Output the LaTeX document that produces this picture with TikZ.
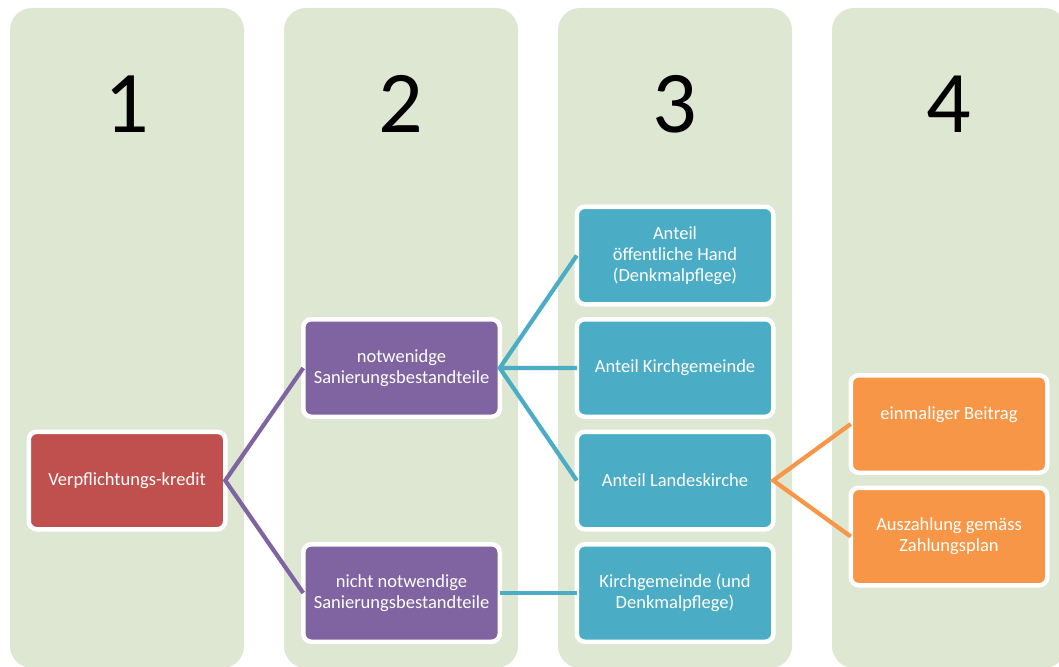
\documentclass[tikz,border=0pt]{standalone}
\usepackage{fontspec}
\setmainfont{Carlito}
\definecolor{colbg}{HTML}{DEE7D1}
\definecolor{kred}{HTML}{C0504D}
\definecolor{kpurple}{HTML}{8064A2}
\definecolor{kblue}{HTML}{4BACC6}
\definecolor{korange}{HTML}{F79646}

\def\colcell{
rectangle ++(234,660)
}

\begin{document}
\begin{tikzpicture}[x=1pt,y=-1pt,
  cell/.style={draw=white,line width=4.5pt,rounded corners=8pt,minimum width=196.5pt,
    minimum height=97.5pt,outer sep=0pt,text=white,align=center,font=\fontsize{18.5}{21}\selectfont},
  link/.style={line width=4.2pt,miter limit=20}]
  \path[use as bounding box] (0,0) rectangle (1059,666);
  \clip (0,0) rectangle (1059,666);
  \foreach \x/\b in {10/1,284/2,558/3,832/4} {
    \fill[colbg,rounded corners=22pt] (\x,8) \colcell;
    \node[anchor=base,font=\fontsize{88}{100}\selectfont] (num\b) at (\x+117,132) {\b};
  }
  \node[cell,fill=kred] (kredit) at (127,480.5) {Verpflichtungs-kredit};
  \node[cell,fill=kpurple] (notw) at (401.5,368) {notwenidge\\Sanierungsbestandteile};
  \node[cell,fill=kpurple] (nicht) at (401.5,593) {nicht notwendige\\Sanierungsbestandteile};
  \node[cell,fill=kblue] (oeff) at (675,255.5) {Anteil\\öffentliche Hand\\(Denkmalpflege)};
  \node[cell,fill=kblue] (kg) at (675,368) {Anteil Kirchgemeinde};
  \node[cell,fill=kblue] (lk) at (675,480.5) {Anteil Landeskirche};
  \node[cell,fill=kblue] (kgdp) at (675,593) {Kirchgemeinde (und\\Denkmalpflege)};
  \node[cell,fill=korange] (einm) at (949,424) {einmaliger Beitrag\\\mbox{}};
  \node[cell,fill=korange] (ausz) at (949,536.5) {Auszahlung gemäss\\Zahlungsplan};
  \draw[link,kpurple] (notw.west) -- (kredit.east) -- (nicht.west);
  \draw[link,kblue] (oeff.west) -- (notw.east) -- (lk.west) (notw.east) -- (kg.west);
  \draw[link,kblue] (nicht.east) -- (kgdp.west);
  \draw[link,korange] (einm.west) -- (lk.east) -- (ausz.west);
\end{tikzpicture}
\end{document}
